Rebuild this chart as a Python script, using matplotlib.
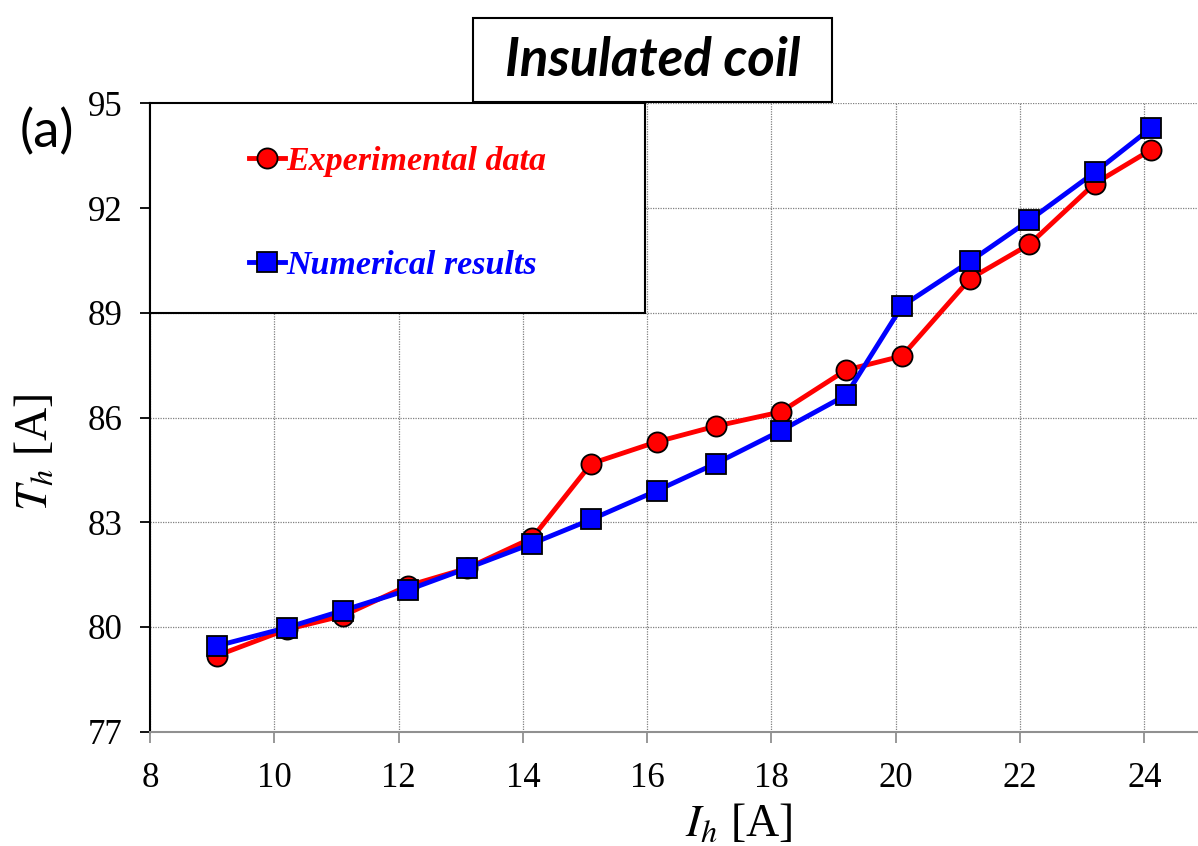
import matplotlib
matplotlib.use("Agg")
from matplotlib import pyplot as plt
from matplotlib.patches import Rectangle

plt.rcParams['font.family'] = 'Liberation Serif'
plt.rcParams['mathtext.fontset'] = 'stix'

# heater current [A] and measured / simulated values
current = [9.08, 10.2, 11.1, 12.15, 13.1, 14.15, 15.1, 16.15,
           17.1, 18.15, 19.2, 20.1, 21.2, 22.15, 23.2, 24.1]
experimental = [79.18, 79.93, 80.32, 81.18, 81.68, 82.55, 84.68, 85.30,
                85.75, 86.16, 87.36, 87.76, 89.98, 90.96, 92.70, 93.66]
numerical = [79.46, 79.98, 80.47, 81.06, 81.68, 82.39, 83.08, 83.90,
             84.68, 85.62, 86.64, 89.19, 90.48, 91.65, 93.02, 94.28]

xticks = [8, 10, 12, 14, 16, 18, 20, 22, 24]
yticks = [77, 80, 83, 86, 89, 92, 95]

fig = plt.figure(figsize=(11.98, 8.46), dpi=100)
ax = fig.add_axes([0.12521, 0.1351, 0.87479, 0.7428])

ax.plot(current, experimental, '-o', color='#ff0000', lw=3.5, ms=14.5,
        mfc='#ff0000', mec='black', mew=1.3, label='Experimental data', zorder=3)
ax.plot(current, numerical, '-s', color='#0000ff', lw=3.5, ms=14.5,
        mfc='#0000ff', mec='black', mew=1.3, label='Numerical results', zorder=4)

ax.set_xlim(8, 24.863)
ax.set_ylim(77, 95)
ax.set_xticks(xticks)
ax.set_yticks(yticks)
ax.grid(True, color='#808080', linestyle=(0, (1, 1)), lw=0.9, zorder=0)
ax.set_axisbelow(True)

for s in ('top', 'right'):
    ax.spines[s].set_visible(False)
ax.spines['left'].set_color('black')
ax.spines['left'].set_linewidth(1.5)
ax.spines['bottom'].set_color('#909090')
ax.spines['bottom'].set_linewidth(1.5)

ax.tick_params(axis='y', direction='out', length=7, width=1.3, color='black',
               labelsize=25, pad=13)
ax.tick_params(axis='x', direction='out', length=8, width=1.3, color='#909090',
               labelsize=25, pad=14)

ax.set_xlabel('$I_h$ [A]', fontsize=33)
ax.xaxis.set_label_coords(0.5615, -0.1140)
ax.set_ylabel('$T_h$ [A]', fontsize=33)
ax.yaxis.set_label_coords(-0.0887, 0.445)

# legend panel
ax.add_patch(Rectangle((0, 0.6663), 0.4723, 0.3337, transform=ax.transAxes,
                       facecolor='white', edgecolor='black', lw=1.5,
                       zorder=5, clip_on=False))
leg = ax.legend(loc='center left', bbox_to_anchor=(0.0945, 0.8244),
                frameon=False, handlelength=1.05,
                handletextpad=0.05, labelspacing=2.15, borderpad=0,
                borderaxespad=0,
                prop={'family': 'Liberation Serif', 'weight': 'bold',
                      'style': 'italic', 'size': 24.5})
leg.set_zorder(6)
for txt, c in zip(leg.get_texts(), ['#ff0000', '#0000ff']):
    txt.set_color(c)

# title box
fig.add_artist(Rectangle((0.3948, 0.8794), 0.2997, 0.0993,
                         transform=fig.transFigure, facecolor='white',
                         edgecolor='black', lw=1.5))
fig.text(0.5447, 0.929, 'Insulated coil', ha='center', va='center',
         family='Lato', weight='bold', style='italic', fontsize=38)

fig.text(20 / 1198, (846 - 132) / 846, '(a)', ha='left', va='center',
         family='Lato', fontsize=38)

fig.savefig('out.png', dpi=100)
